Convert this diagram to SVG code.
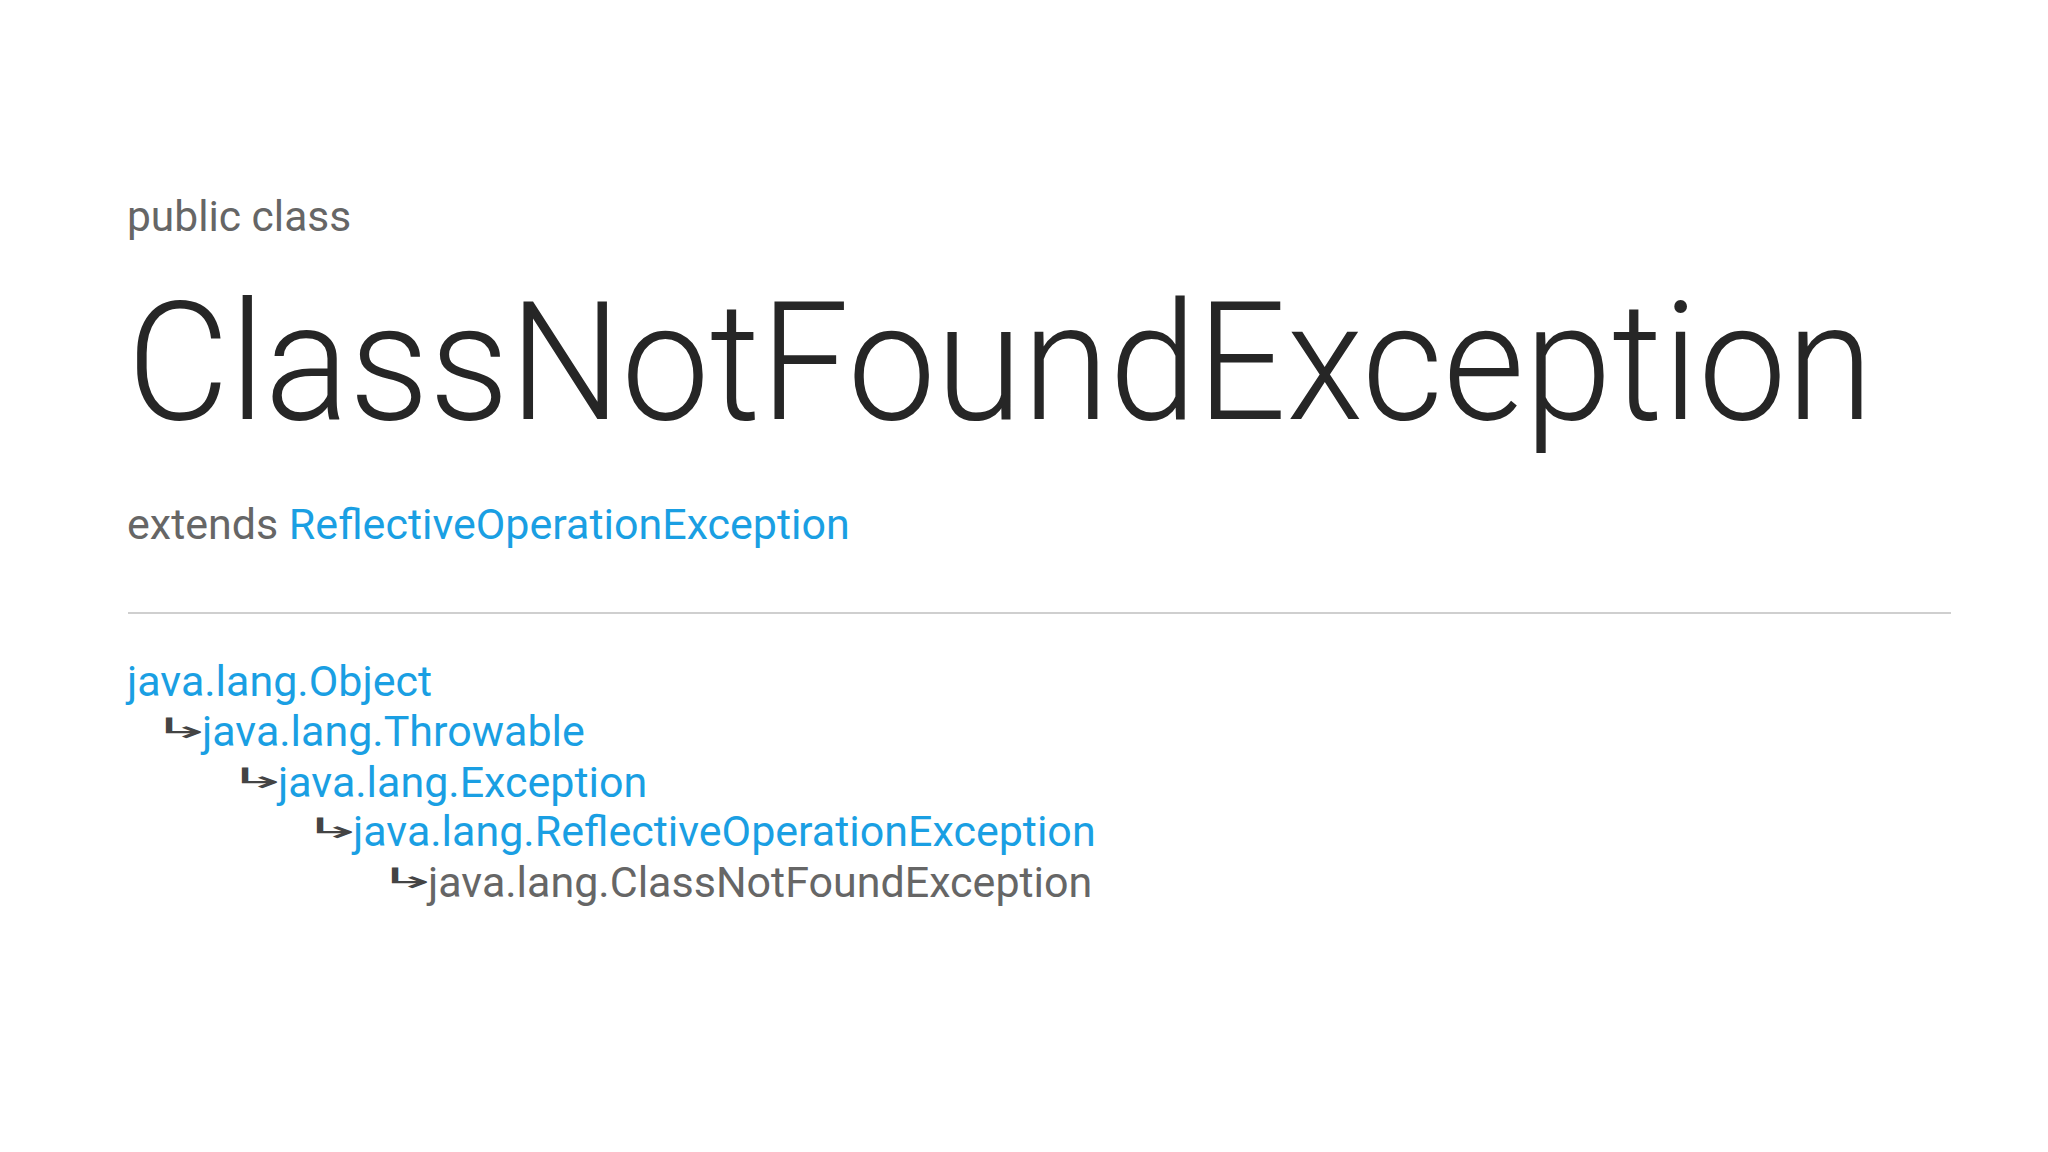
<svg xmlns="http://www.w3.org/2000/svg" width="2048" height="1152" viewBox="0 0 2048 1152">
<style>
.t{font-family:Roboto,"Liberation Sans",sans-serif}
.g{fill:#666}
.a{fill:#1a9fe3}
.ar{fill:#444;font-family:"DejaVu Sans",sans-serif;font-size:40px}
</style>
<rect width="2048" height="1152" fill="#fff"/>
<g id="header">
<text class="t g" x="127" y="231" font-size="42.5">public class</text>
<text class="t" transform="translate(127 419) scale(0.95 1)" x="0" y="0" font-size="166" font-weight="300" fill="#262626">ClassNotFoundException</text>
<text class="t g" x="127" y="539" font-size="43">extends <tspan class="a">ReflectiveOperationException</tspan></text>
</g>
<g id="connectors">
<line x1="128" y1="613" x2="1951" y2="613" stroke="#cfcfcf" stroke-width="2"/>
</g>
<g id="hierarchy" class="t" font-size="43">
<g id="n1"><text class="a" x="127" y="696">java.lang.Object</text></g>
<g id="n2"><text class="ar" transform="translate(150 738) scale(1.9 0.7)">↳</text><text class="a" x="202" y="746">java.lang.Throwable</text></g>
<g id="n3"><text class="ar" transform="translate(226 788) scale(1.9 0.7)">↳</text><text class="a" x="278" y="797">java.lang.Exception</text></g>
<g id="n4"><text class="ar" transform="translate(301 838) scale(1.9 0.7)">↳</text><text class="a" x="353" y="846">java.lang.ReflectiveOperationException</text></g>
<g id="n5"><text class="ar" transform="translate(376 888) scale(1.9 0.7)">↳</text><text class="g" x="428" y="897">java.lang.ClassNotFoundException</text></g>
</g>
</svg>
